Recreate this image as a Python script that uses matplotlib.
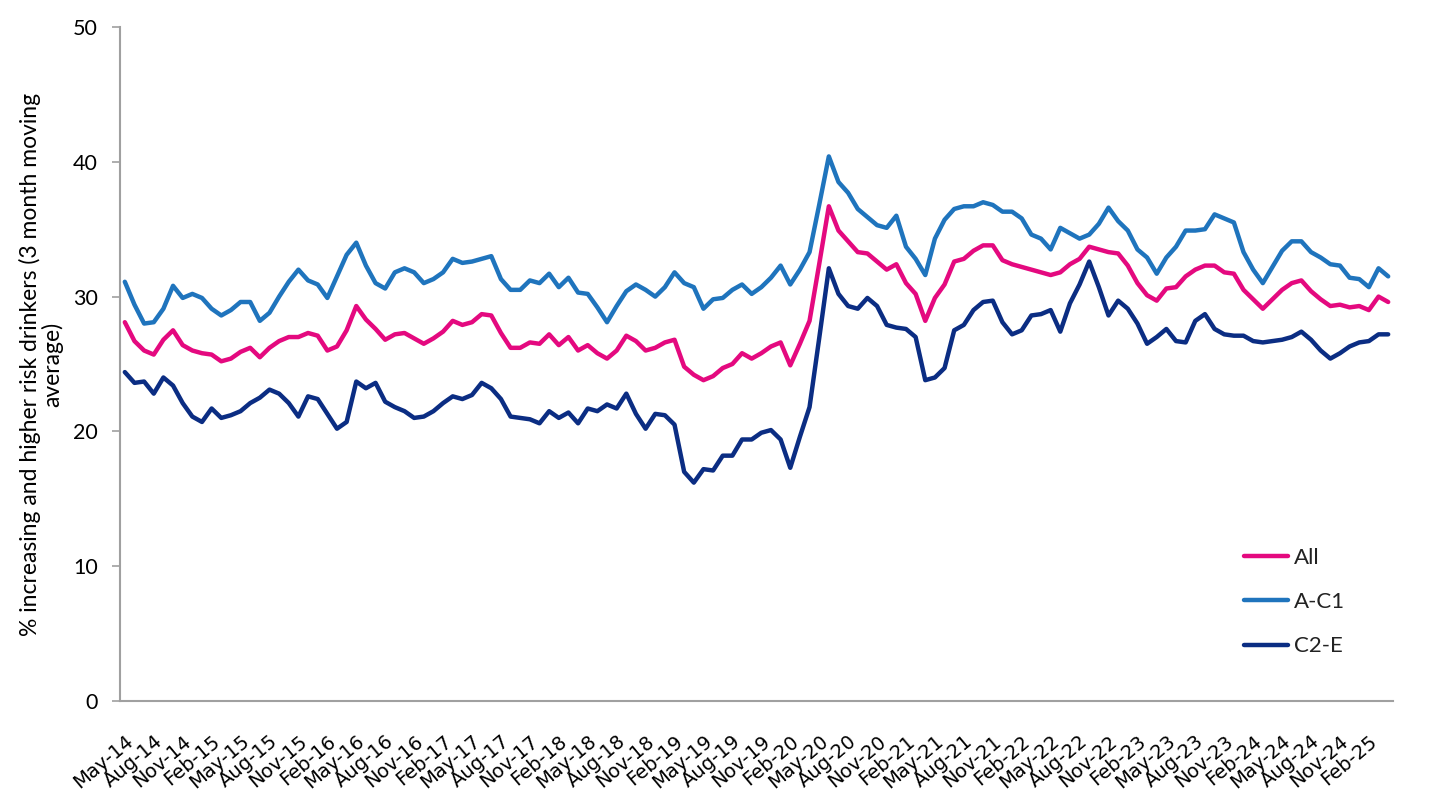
import matplotlib
matplotlib.use("Agg")
import matplotlib.pyplot as plt
import pandas as pd

months = pd.date_range("2014-05-01", periods=132, freq="MS").strftime("%b-%y").tolist()

all_vals = [28.1, 26.7, 26.0, 25.7, 26.8, 27.5, 26.4, 26.0, 25.8, 25.7, 25.2, 25.4,
            25.9, 26.2, 25.5, 26.2, 26.7, 27.0, 27.0, 27.3, 27.1, 26.0, 26.3, 27.5,
            29.3, 28.3, 27.6, 26.8, 27.2, 27.3, 26.9, 26.5, 26.9, 27.4, 28.2, 27.9,
            28.1, 28.7, 28.6, 27.3, 26.2, 26.2, 26.6, 26.5, 27.2, 26.4, 27.0, 26.0,
            26.4, 25.8, 25.4, 26.0, 27.1, 26.7, 26.0, 26.2, 26.6, 26.8, 24.8, 24.2,
            23.8, 24.1, 24.7, 25.0, 25.8, 25.4, 25.8, 26.3, 26.6, 24.9, 26.5, 28.2,
            32.4, 36.7, 34.9, 34.1, 33.3, 33.2, 32.6, 32.0, 32.4, 31.0, 30.2, 28.2,
            29.9, 30.9, 32.6, 32.8, 33.4, 33.8, 33.8, 32.7, 32.4, 32.2, 32.0, 31.8,
            31.6, 31.8, 32.4, 32.8, 33.7, 33.5, 33.3, 33.2, 32.3, 31.0, 30.1, 29.7,
            30.6, 30.7, 31.5, 32.0, 32.3, 32.3, 31.8, 31.7, 30.5, 29.8, 29.1, 29.8,
            30.5, 31.0, 31.2, 30.4, 29.8, 29.3, 29.4, 29.2, 29.3, 29.0, 30.0, 29.6]

ac1_vals = [31.1, 29.4, 28.0, 28.1, 29.1, 30.8, 29.9, 30.2, 29.9, 29.1, 28.6, 29.0,
            29.6, 29.6, 28.2, 28.8, 30.0, 31.1, 32.0, 31.2, 30.9, 29.9, 31.5, 33.1,
            34.0, 32.3, 31.0, 30.6, 31.8, 32.1, 31.8, 31.0, 31.3, 31.8, 32.8, 32.5,
            32.6, 32.8, 33.0, 31.3, 30.5, 30.5, 31.2, 31.0, 31.7, 30.7, 31.4, 30.3,
            30.2, 29.2, 28.1, 29.3, 30.4, 30.9, 30.5, 30.0, 30.7, 31.8, 31.0, 30.7,
            29.1, 29.8, 29.9, 30.5, 30.9, 30.2, 30.7, 31.4, 32.3, 30.9, 32.0, 33.3,
            36.8, 40.4, 38.5, 37.7, 36.5, 35.9, 35.3, 35.1, 36.0, 33.7, 32.8, 31.6,
            34.3, 35.7, 36.5, 36.7, 36.7, 37.0, 36.8, 36.3, 36.3, 35.8, 34.6, 34.3,
            33.5, 35.1, 34.7, 34.3, 34.6, 35.4, 36.6, 35.6, 34.9, 33.5, 32.9, 31.7,
            32.9, 33.7, 34.9, 34.9, 35.0, 36.1, 35.8, 35.5, 33.3, 32.0, 31.0, 32.2,
            33.4, 34.1, 34.1, 33.3, 32.9, 32.4, 32.3, 31.4, 31.3, 30.7, 32.1, 31.5]

c2e_vals = [24.4, 23.6, 23.7, 22.8, 24.0, 23.4, 22.1, 21.1, 20.7, 21.7, 21.0, 21.2,
            21.5, 22.1, 22.5, 23.1, 22.8, 22.1, 21.1, 22.6, 22.4, 21.3, 20.2, 20.7,
            23.7, 23.2, 23.6, 22.2, 21.8, 21.5, 21.0, 21.1, 21.5, 22.1, 22.6, 22.4,
            22.7, 23.6, 23.2, 22.4, 21.1, 21.0, 20.9, 20.6, 21.5, 21.0, 21.4, 20.6,
            21.7, 21.5, 22.0, 21.7, 22.8, 21.3, 20.2, 21.3, 21.2, 20.5, 17.0, 16.2,
            17.2, 17.1, 18.2, 18.2, 19.4, 19.4, 19.9, 20.1, 19.4, 17.3, 19.6, 21.8,
            26.9, 32.1, 30.2, 29.3, 29.1, 29.9, 29.3, 27.9, 27.7, 27.6, 27.0, 23.8,
            24.0, 24.7, 27.5, 27.9, 29.0, 29.6, 29.7, 28.1, 27.2, 27.5, 28.6, 28.7,
            29.0, 27.4, 29.5, 30.9, 32.6, 30.7, 28.6, 29.7, 29.1, 28.0, 26.5, 27.0,
            27.6, 26.7, 26.6, 28.2, 28.7, 27.6, 27.2, 27.1, 27.1, 26.7, 26.6, 26.7,
            26.8, 27.0, 27.4, 26.8, 26.0, 25.4, 25.8, 26.3, 26.6, 26.7, 27.2, 27.2]

series_names = ["All", "A-C1", "C2-E"]
series_colors = ["#E4097F", "#1F74BD", "#0B2D83"]
y_ticks = [0, 10, 20, 30, 40, 50]
y_label = "% increasing and higher risk drinkers (3 month moving\naverage)"

main_font = ["Lato", "DejaVu Sans"]

fig = plt.figure(figsize=(14.56, 8.06), dpi=100)
ax = fig.add_axes([120/1456, 1 - 701/806, (1393-120)/1456, (701-27)/806])

x = list(range(len(months)))
for vals, name, col in zip([all_vals, ac1_vals, c2e_vals], series_names, series_colors):
    ax.plot(x, vals, color=col, lw=3.2, label=name, solid_joinstyle="round", solid_capstyle="round")

ax.set_xlim(-0.5, len(months) - 0.5)
ax.set_ylim(0, 50)
ax.set_yticks(y_ticks)
ax.set_yticklabels([str(v) for v in y_ticks], fontsize=15.5, family=main_font)
ax.tick_params(axis="y", length=6, color="#A0A0A0", width=1.2, pad=10)

xt = x[::3]
ax.set_xticks(xt)
ax.set_xticklabels([months[i] for i in xt], rotation=40, ha="right", rotation_mode="anchor",
                   fontsize=14, family="DejaVu Sans")
ax.tick_params(axis="x", length=0, pad=22)

for s in ["top", "right"]:
    ax.spines[s].set_visible(False)
for s in ["left", "bottom"]:
    ax.spines[s].set_color("#A0A0A0")
    ax.spines[s].set_linewidth(1.5)

ax.set_ylabel(y_label, fontsize=16.5, family=main_font, labelpad=7, linespacing=1.0)

leg = ax.legend(loc="center left", bbox_to_anchor=(1244/1456, (806-602)/806),
                bbox_transform=fig.transFigure, frameon=False,
                handlelength=2.0, handletextpad=0.25, labelspacing=1.1,
                borderpad=0, borderaxespad=0, prop={"family": main_font, "size": 16})
for t in leg.get_texts():
    t.set_color("#222222")

fig.savefig("out.png", dpi=100)
